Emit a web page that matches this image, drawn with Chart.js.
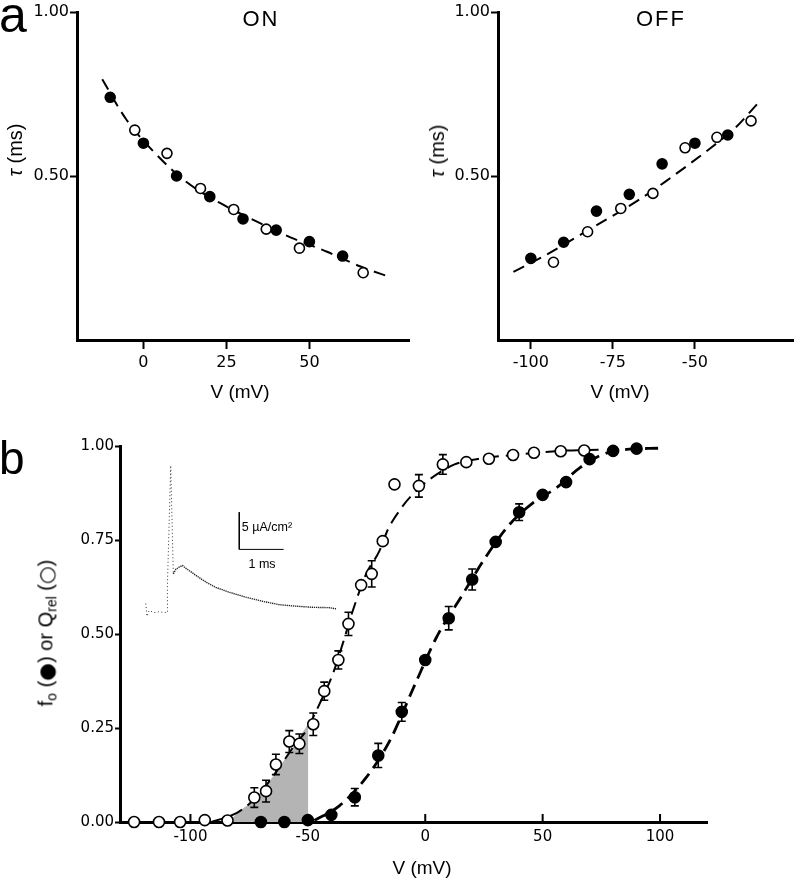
<!DOCTYPE html>
<html>
<head>
<meta charset="utf-8">
<script src="https://cdn.jsdelivr.net/npm/chart.js@4.4.1/dist/chart.umd.min.js"></script>
<style>
  body { margin: 0; background: #fff; }
  #page { position: relative; width: 800px; height: 881px; overflow: hidden; color: #000; font-family: "Liberation Sans", Arial, sans-serif; }
  canvas { position: absolute; }
  .lbl { position: absolute; transform: translate(-50%, -50%); white-space: nowrap; line-height: 1; }
  .rot { transform: translate(-50%, -50%) rotate(-90deg); }
  .panel { position: absolute; line-height: 1; font-size: 50px; }
  .sym { font-family: "DejaVu Sans", sans-serif; font-size: 1.02em; vertical-align: -0.04em; }
  sub { font-size: 0.7em; vertical-align: -0.3em; }
</style>
</head>
<body>
<div id="page">
  <canvas id="onChart" style="left:0;top:0" width="420" height="400"></canvas>
  <canvas id="offChart" style="left:420px;top:0" width="380" height="400"></canvas>
  <canvas id="bChart" style="left:0;top:430px" width="800" height="451"></canvas>

  <div class="panel" style="left:-1px;top:-10px">a</div>
  <div class="panel" style="left:-1px;top:435px;font-size:46px">b</div>

  <div class="lbl" style="left:261px;top:19px;font-size:22px;letter-spacing:2px">ON</div>
  <div class="lbl" style="left:661px;top:19px;font-size:22px;letter-spacing:2px">OFF</div>

  <div class="lbl rot" style="left:15px;top:150px;font-size:20px"><i>τ</i> (ms)</div>
  <div class="lbl rot" style="left:437px;top:151px;font-size:20px"><i>τ</i> (ms)</div>
  <div class="lbl" style="left:240px;top:391px;font-size:19px">V (mV)</div>
  <div class="lbl" style="left:620px;top:391px;font-size:19px">V (mV)</div>

  <div class="lbl rot" style="left:47px;top:633px;font-size:20px">f<sub>o</sub> (<span class="sym">●</span>) or Q<sub>rel</sub> (<span class="sym">○</span>)</div>
  <div class="lbl" style="left:422px;top:867px;font-size:19px">V (mV)</div>

  <div class="lbl" style="left:267px;top:527px;font-size:12.5px">5 µA/cm²</div>
  <div class="lbl" style="left:262px;top:564px;font-size:12.5px">1 ms</div>
</div>

<script>
// ---- panel a, ON ----
const onTicksX = [0, 25, 50];
const onFilledV = [-10, 0, 10, 20, 30, 40, 50, 60];
const onFilledTau = [0.74, 0.60, 0.50, 0.437, 0.369, 0.335, 0.30, 0.256];
const onOpenV = [-2.6, 7.1, 17.2, 27.2, 37, 47, 66.2];
const onOpenTau = [0.64, 0.569, 0.462, 0.398, 0.338, 0.28, 0.205];
const onFitV = [-12.4, -5.4, 3.1, 13.2, 23.2, 34.2, 44.3, 55.3, 65.4, 73.9];
const onFitTau = [0.795, 0.676, 0.574, 0.48, 0.417, 0.361, 0.313, 0.269, 0.224, 0.193];

// ---- panel a, OFF ----
const offTicksX = [-100, -75, -50];
const offFilledV = [-100, -90, -80, -70, -60, -50, -40];
const offFilledTau = [0.249, 0.298, 0.393, 0.444, 0.537, 0.60, 0.625];
const offOpenV = [-93.1, -82.7, -72.6, -62.8, -53, -43.3, -32.9];
const offOpenTau = [0.237, 0.33, 0.401, 0.447, 0.586, 0.618, 0.668];
const offFitV = [-105.3, -96.3, -86.2, -77.2, -67.1, -59, -45.4, -37.9, -30.8];
const offFitTau = [0.208, 0.254, 0.313, 0.366, 0.427, 0.483, 0.584, 0.645, 0.722];

const tauTicks = [0.5, 1.0];

// ---- panel b ----
const bTicksX = [-100, -50, 0, 50, 100];
const bTicksY = [0, 0.25, 0.5, 0.75, 1.0];

const foV = [-70, -60, -50, -40, -30, -20, -10, 0, 10, 20, 30, 40, 50, 60, 70, 80, 90];
const foVal = [0, 0, 0.005, 0.019, 0.066, 0.177, 0.293, 0.431, 0.542, 0.645, 0.745, 0.824, 0.870, 0.904, 0.965, 0.987, 0.993];
const foErr = [0, 0, 0, 0, 0.023, 0.032, 0.025, 0, 0.031, 0.028, 0, 0.022, 0, 0, 0, 0, 0];

const qV = [-124, -113.4, -104.4, -93.9, -84.2, -72.8, -67.8, -63.6, -57.9, -53.6, -47.7, -43, -37, -32.7,
  -27.3, -22.8, -18.1, -13.1, -2.7, 7.5, 17.5, 27.1, 37.4, 46.3, 57.7, 67.7];
const qVal = [0, 0, 0, 0.005, 0.004, 0.065, 0.082, 0.153, 0.214, 0.208, 0.26, 0.348, 0.431, 0.527,
  0.63, 0.66, 0.747, 0.898, 0.894, 0.951, 0.957, 0.966, 0.976, 0.982, 0.986, 0.988];
const qErr = [0, 0, 0, 0, 0, 0.026, 0.029, 0.027, 0.029, 0.026, 0.03, 0.024, 0.024, 0.031,
  0, 0.035, 0, 0, 0.03, 0.026, 0, 0, 0, 0, 0, 0];

const foFitV = [-47.2, -36.6, -25.2, -15.2, -5, 4.7, 16, 26, 36, 45.9, 55.9, 65.8, 75.8, 85.8, 99.2];
const foFitVal = [0.004, 0.043, 0.118, 0.215, 0.357, 0.49, 0.606, 0.707, 0.792, 0.849, 0.889, 0.942, 0.978, 0.991, 0.994];

const qFitV = [-91, -85, -80, -75, -70, -65, -60, -55, -50.8, -45.1, -39.4, -35.2, -30.9, -25.2, -19.5,
  -15.9, -9.6, -6, 1.8, 12.5, 21.8, 37.4, 57.3, 76];
const qFitVal = [0, 0.012, 0.025, 0.048, 0.08, 0.12, 0.165, 0.21, 0.242, 0.313, 0.393, 0.473, 0.561, 0.659, 0.721,
  0.778, 0.84, 0.867, 0.911, 0.951, 0.965, 0.976, 0.987, 0.99];

// grey area under the Qrel fit
const shadeV = [-83.4, -80, -75, -70, -65, -60, -55, -49.8, -49.8];
const shadeVal = [0, 0.025, 0.048, 0.08, 0.12, 0.165, 0.21, 0.262, 0];

// inset current trace (drawn in panel b units)
const spikeV = [-119.0, -118.5, -117.6, -115.5, -113.4, -110.8, -109.8, -109.8, -108.4, -107.3];
const spikeY = [0.581, 0.547, 0.562, 0.557, 0.559, 0.557, 0.557, 0.63, 0.948, 0.66];
const decayV = [-107.3, -106.2, -104.8, -103.4, -101.8, -100.6, -97.7, -93.4, -89.2, -83.5, -76.4, -69.3,
  -62.2, -55.1, -48, -40.8, -38];
const decayY = [0.66, 0.672, 0.678, 0.682, 0.674, 0.669, 0.656, 0.638, 0.624, 0.611, 0.598, 0.587,
  0.578, 0.574, 0.571, 0.57, 0.567];
const scaleBarV = [-79.2, -79.2, -60.3];
const scaleBarY = [0.824, 0.725, 0.725];

const pts = (xs, ys) => xs.map((x, i) => ({ x: x, y: ys[i] }));

const markerSet = (xs, ys, filled, r, errs) => ({
  data: pts(xs, ys),
  errors: errs,
  showLine: false,
  pointRadius: r,
  pointBackgroundColor: filled ? "#000" : "#fff",
  pointBorderColor: "#000",
  pointBorderWidth: 1.6,
  clip: false,
});

const lineSet = (xs, ys, width, dash) => ({
  data: pts(xs, ys),
  showLine: true,
  pointRadius: 0,
  borderColor: "#000",
  borderWidth: width,
  borderDash: dash,
  cubicInterpolationMode: "monotone",
  clip: false,
});

// error bars go just under their own markers
const errorBars = {
  id: "errorBars",
  beforeDatasetDraw(chart, args) {
    const ds = chart.data.datasets[args.index];
    if (!ds.errors) return;
    const { ctx, scales } = chart;
    ctx.save();
    ctx.strokeStyle = "#000";
    ctx.lineWidth = 1.6;
    ds.data.forEach((p, i) => {
      const e = ds.errors[i];
      if (!e) return;
      const px = scales.x.getPixelForValue(p.x);
      const top = scales.y.getPixelForValue(p.y + e);
      const bot = scales.y.getPixelForValue(p.y - e);
      ctx.beginPath();
      ctx.moveTo(px, top);
      ctx.lineTo(px, bot);
      ctx.moveTo(px - 4, top);
      ctx.lineTo(px + 4, top);
      ctx.moveTo(px - 4, bot);
      ctx.lineTo(px + 4, bot);
      ctx.stroke();
    });
    ctx.restore();
  },
};

// panel b has its x ticks pointing into the plot
const innerXTicks = {
  id: "innerXTicks",
  beforeDatasetsDraw(chart) {
    const { ctx, scales, chartArea } = chart;
    ctx.save();
    ctx.strokeStyle = "#000";
    ctx.lineWidth = 2;
    scales.x.ticks.forEach((t) => {
      const px = scales.x.getPixelForValue(t.value);
      ctx.beginPath();
      ctx.moveTo(px, chartArea.bottom);
      ctx.lineTo(px, chartArea.bottom - 8);
      ctx.stroke();
    });
    ctx.restore();
  },
};

const tickFont = (size) => ({ family: "DejaVu Sans", size: size });

function tauOptions(xMin, xMax, xTicks, yWidth, padRight) {
  return {
    responsive: false,
    animation: false,
    layout: { padding: { left: 0, top: 12, right: padRight, bottom: 0 } },
    plugins: { legend: { display: false }, tooltip: { enabled: false } },
    scales: {
      x: {
        type: "linear",
        min: xMin,
        max: xMax,
        afterBuildTicks: (s) => { s.ticks = xTicks.map((v) => ({ value: v })); },
        afterFit: (s) => { s.height = 60; },
        border: { display: true, width: 3, color: "#000" },
        grid: { drawOnChartArea: false, drawTicks: true, tickLength: 9, tickWidth: 2, tickColor: "#000" },
        ticks: { color: "#000", font: tickFont(16), padding: 4, maxRotation: 0, callback: (v) => String(v) },
      },
      y: {
        type: "linear",
        min: 0,
        max: 1,
        afterBuildTicks: (s) => { s.ticks = tauTicks.map((v) => ({ value: v })); },
        afterFit: (s) => { s.width = yWidth; },
        border: { display: true, width: 3, color: "#000" },
        grid: { drawOnChartArea: false, drawTicks: true, tickLength: 7, tickWidth: 2, tickColor: "#000" },
        ticks: { color: "#000", font: tickFont(16), padding: 1, callback: (v) => v.toFixed(2) },
      },
    },
  };
}

new Chart(document.getElementById("onChart"), {
  type: "scatter",
  data: {
    datasets: [
      markerSet(onFilledV, onFilledTau, true, 5),
      markerSet(onOpenV, onOpenTau, false, 5),
      lineSet(onFitV, onFitTau, 2, [12, 7]),
    ],
  },
  options: tauOptions(-20, 80, onTicksX, 77, 11),
});

new Chart(document.getElementById("offChart"), {
  type: "scatter",
  data: {
    datasets: [
      markerSet(offFilledV, offFilledTau, true, 5),
      markerSet(offOpenV, offOpenTau, false, 5),
      lineSet(offFitV, offFitTau, 2, [12, 7]),
    ],
  },
  options: tauOptions(-110, -20, offTicksX, 78, 4),
});

const shade = lineSet(shadeV, shadeVal, 0, []);
shade.cubicInterpolationMode = "default";
shade.tension = 0;
shade.fill = "origin";
shade.backgroundColor = "#b4b4b4";

const spike = lineSet(spikeV, spikeY, 1, [1, 2.5]);
spike.cubicInterpolationMode = "default";
spike.borderColor = "#333";
const decay = lineSet(decayV, decayY, 1.4, [1.3, 0.8]);
decay.cubicInterpolationMode = "default";
decay.borderColor = "#222";
const scaleBar = lineSet(scaleBarV, scaleBarY, 1, []);
scaleBar.cubicInterpolationMode = "default";

new Chart(document.getElementById("bChart"), {
  type: "scatter",
  data: {
    datasets: [
      markerSet(foV, foVal, true, 5.5, foErr),
      markerSet(qV, qVal, false, 5.5, qErr),
      lineSet(foFitV, foFitVal, 2.8, [13, 7]),
      lineSet(qFitV, qFitVal, 2, [13, 7]),
      shade,
      decay,
      spike,
      scaleBar,
    ],
  },
  plugins: [errorBars, innerXTicks],
  options: {
    responsive: false,
    animation: false,
    layout: { padding: { left: 0, top: 16, right: 93, bottom: 0 } },
    plugins: { legend: { display: false }, tooltip: { enabled: false } },
    scales: {
      x: {
        type: "linear",
        min: -130,
        max: 120,
        afterBuildTicks: (s) => { s.ticks = bTicksX.map((v) => ({ value: v })); },
        afterFit: (s) => { s.height = 59; },
        border: { display: true, width: 3, color: "#000" },
        grid: { drawOnChartArea: false, drawTicks: false },
        ticks: { color: "#000", font: tickFont(15), padding: 6, maxRotation: 0, callback: (v) => String(v) },
      },
      y: {
        type: "linear",
        min: 0,
        max: 1,
        afterBuildTicks: (s) => { s.ticks = bTicksY.map((v) => ({ value: v })); },
        afterFit: (s) => { s.width = 120; },
        border: { display: true, width: 3, color: "#000" },
        grid: { drawOnChartArea: false, drawTicks: true, tickLength: 5, tickWidth: 2, tickColor: "#000" },
        ticks: { color: "#000", font: tickFont(15), padding: 1, callback: (v) => v.toFixed(2) },
      },
    },
  },
});
</script>
</body>
</html>
